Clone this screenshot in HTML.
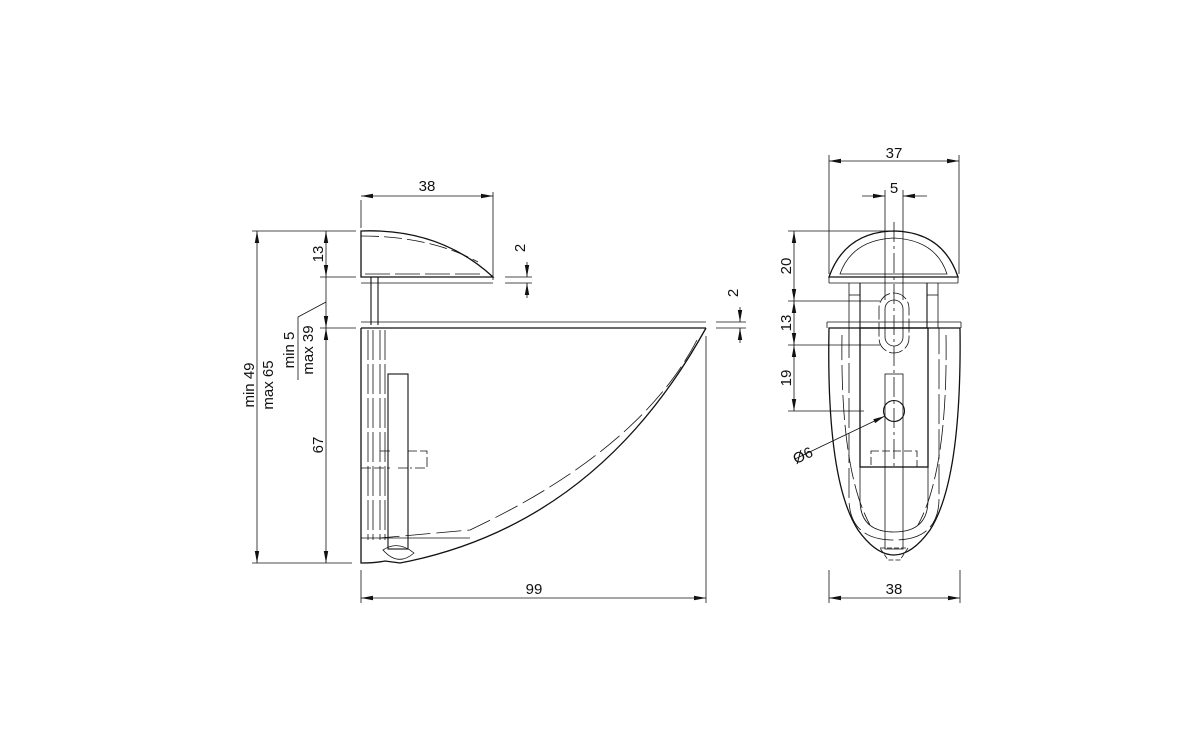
<!DOCTYPE html>
<html><head><meta charset="utf-8"><style>
html,body{margin:0;padding:0;background:#fff;}
svg{display:block;}
text{font-family:"Liberation Sans",sans-serif;font-size:15px;fill:#111;}
</style></head><body>
<svg width="1200" height="750" viewBox="0 0 1200 750" xmlns="http://www.w3.org/2000/svg">
<defs>
<marker id="a" viewBox="0 0 12 6" refX="12" refY="3" markerWidth="12" markerHeight="6" orient="auto-start-reverse" markerUnits="userSpaceOnUse"><path d="M0,0.8 L12,3 L0,5.2z" fill="#111"/></marker>
</defs>
<g stroke="#111" fill="none" stroke-width="0.8">
<line x1="361" y1="200" x2="361" y2="228"/>
<line x1="493" y1="192" x2="493" y2="280"/>
<line x1="361" y1="196" x2="493" y2="196" marker-start="url(#a)" marker-end="url(#a)"/>
<line x1="252" y1="231" x2="356" y2="231"/>
<line x1="252" y1="563" x2="352" y2="563"/>
<line x1="257" y1="231" x2="257" y2="563" marker-start="url(#a)" marker-end="url(#a)"/>
<line x1="320" y1="277" x2="356" y2="277"/>
<line x1="320" y1="328" x2="356" y2="328"/>
<line x1="326" y1="231" x2="326" y2="277" marker-start="url(#a)" marker-end="url(#a)"/>
<line x1="326" y1="277" x2="326" y2="302"/>
<line x1="326" y1="302" x2="326" y2="328" marker-end="url(#a)"/>
<line x1="326" y1="328" x2="326" y2="563" marker-start="url(#a)" marker-end="url(#a)"/>
<polyline points="326,302 298,317 298,380"/>
<line x1="361" y1="598" x2="706" y2="598" marker-start="url(#a)" marker-end="url(#a)"/>
<line x1="361" y1="570" x2="361" y2="603"/>
<line x1="706" y1="336" x2="706" y2="603"/>
<line x1="505" y1="277" x2="532" y2="277"/>
<line x1="505" y1="283" x2="532" y2="283"/>
<line x1="527" y1="262" x2="527" y2="277" marker-end="url(#a)"/>
<line x1="527" y1="298" x2="527" y2="283" marker-end="url(#a)"/>
<line x1="716" y1="322" x2="746" y2="322"/>
<line x1="716" y1="328" x2="746" y2="328"/>
<line x1="740" y1="307" x2="740" y2="322" marker-end="url(#a)"/>
<line x1="740" y1="343" x2="740" y2="328" marker-end="url(#a)"/>
<path d="M361,231 Q440,228 493,277 L361,277 Z" stroke-width="1.3"/>
<path d="M361,236 Q430,236 478,262" stroke-dasharray="18,5"/>
<line x1="365" y1="274" x2="485" y2="274" stroke-dasharray="25,5"/>
<line x1="361" y1="283" x2="493" y2="283"/>
<line x1="371" y1="277" x2="371" y2="325" stroke-width="1.1"/>
<line x1="378" y1="277" x2="378" y2="325" stroke-width="1.1"/>
<line x1="361" y1="322" x2="706" y2="322"/>
<line x1="361" y1="328" x2="706" y2="328" stroke-width="1.3"/>
<path d="M361,328 L361,563 Q375,563 385,561 L400,563 L410,561 Q600,520 706,328" stroke-width="1.3"/>
<path d="M697,340 Q640,450 470,530 L380,538" stroke-dasharray="25,6"/>
<line x1="361" y1="538" x2="470" y2="538"/>
<line x1="368" y1="330" x2="368" y2="540" stroke-dasharray="30,4"/>
<line x1="373" y1="330" x2="373" y2="540" stroke-dasharray="30,4"/>
<line x1="380" y1="330" x2="380" y2="540" stroke-dasharray="30,4"/>
<line x1="385" y1="330" x2="385" y2="540" stroke-dasharray="30,4"/>
<rect x="388" y="374" width="20" height="175" stroke-width="1.1"/>
<path d="M383,550 Q398,567 414,553 Q398,540 383,550Z"/>
<path d="M361,468 L390,468 M398,468 L408,468 L408,451 L427,451 L427,468 L410,468 M380,451 L390,451" stroke-dasharray="10,3"/>
<line x1="829" y1="155" x2="829" y2="274"/>
<line x1="959" y1="155" x2="959" y2="274"/>
<line x1="829" y1="161" x2="959" y2="161" marker-start="url(#a)" marker-end="url(#a)"/>
<line x1="862" y1="196" x2="885" y2="196" marker-end="url(#a)"/>
<line x1="927" y1="196" x2="903" y2="196" marker-end="url(#a)"/>
<line x1="885" y1="190" x2="885" y2="300"/>
<line x1="903" y1="190" x2="903" y2="300"/>
<line x1="894" y1="222" x2="894" y2="470" stroke-dasharray="20,4,3,4"/>
<line x1="829" y1="570" x2="829" y2="603"/>
<line x1="960" y1="570" x2="960" y2="603"/>
<line x1="829" y1="598" x2="960" y2="598" marker-start="url(#a)" marker-end="url(#a)"/>
<line x1="788" y1="231" x2="894" y2="231"/>
<line x1="788" y1="301" x2="880" y2="301"/>
<line x1="788" y1="345" x2="880" y2="345"/>
<line x1="788" y1="411" x2="864" y2="411"/>
<line x1="794" y1="231" x2="794" y2="301" marker-start="url(#a)" marker-end="url(#a)"/>
<line x1="794" y1="301" x2="794" y2="345" marker-start="url(#a)" marker-end="url(#a)"/>
<line x1="794" y1="345" x2="794" y2="411" marker-start="url(#a)" marker-end="url(#a)"/>
<path d="M829,277 Q845,232 894,231 Q943,232 958,277 Z" stroke-width="1.3"/>
<path d="M840,274 Q852,240 894,238 Q936,240 947,274 Z"/>
<line x1="829" y1="283" x2="958" y2="283"/>
<line x1="829" y1="277" x2="829" y2="283"/>
<line x1="958" y1="277" x2="958" y2="283"/>
<line x1="849" y1="283" x2="849" y2="328"/><line x1="860" y1="283" x2="860" y2="328" stroke-width="1.1"/>
<line x1="927" y1="283" x2="927" y2="328" stroke-width="1.1"/><line x1="938" y1="283" x2="938" y2="328"/>
<line x1="849" y1="295" x2="860" y2="295"/><line x1="927" y1="295" x2="938" y2="295"/>
<line x1="827" y1="322" x2="961" y2="322"/>
<line x1="827" y1="322" x2="827" y2="328"/><line x1="961" y1="322" x2="961" y2="328"/>
<path d="M829,328 L960,328 Q962,480 930,530 Q894,580 858,530 Q826,480 829,328Z" stroke-width="1.3"/>
<path d="M842,335 Q840,470 870,525 M946,335 Q948,470 918,525" stroke-dasharray="25,5"/>
<rect x="860" y="328" width="68" height="139" stroke-width="1.3"/>
<path d="M860,467 L860,500 Q860,532 894,532 Q928,532 928,500 L928,467"/>
<path d="M849,328 L849,500 Q850,540 894,540 Q938,540 939,500 L939,328" stroke-dasharray="30,5"/>
<rect x="885" y="374" width="18" height="175"/>
<path d="M880,548 L908,548 L900,560 L888,560 Z" stroke-dasharray="5,2"/>
<rect x="871" y="451" width="46" height="16" stroke-dasharray="8,3"/>
<rect x="885" y="300" width="18" height="46" rx="9"/>
<rect x="879" y="293" width="30" height="60" rx="15" stroke-dasharray="14,3"/>
<circle cx="894" cy="411" r="10.5" stroke-width="1.1"/>
<line x1="795" y1="459" x2="885" y2="416" marker-end="url(#a)"/>
</g>
<text x="427" y="191" text-anchor="middle">38</text>
<text x="534" y="594" text-anchor="middle">99</text>
<text x="894" y="158" text-anchor="middle">37</text>
<text x="894" y="193" text-anchor="middle">5</text>
<text x="894" y="594" text-anchor="middle">38</text>
<text transform="translate(525,248) rotate(-90)" text-anchor="middle">2</text>
<text transform="translate(738,293) rotate(-90)" text-anchor="middle">2</text>
<text transform="translate(323,254) rotate(-90)" text-anchor="middle">13</text>
<text transform="translate(323,445) rotate(-90)" text-anchor="middle">67</text>
<text transform="translate(294,350) rotate(-90)" text-anchor="middle">min 5</text>
<text transform="translate(313,350) rotate(-90)" text-anchor="middle">max 39</text>
<text transform="translate(254,385) rotate(-90)" text-anchor="middle">min 49</text>
<text transform="translate(273,385) rotate(-90)" text-anchor="middle">max 65</text>
<text transform="translate(791,266) rotate(-90)" text-anchor="middle">20</text>
<text transform="translate(791,323) rotate(-90)" text-anchor="middle">13</text>
<text transform="translate(791,378) rotate(-90)" text-anchor="middle">19</text>
<text transform="translate(805,460) rotate(-25)" text-anchor="middle">Ø6</text>
</svg>
</body></html>
